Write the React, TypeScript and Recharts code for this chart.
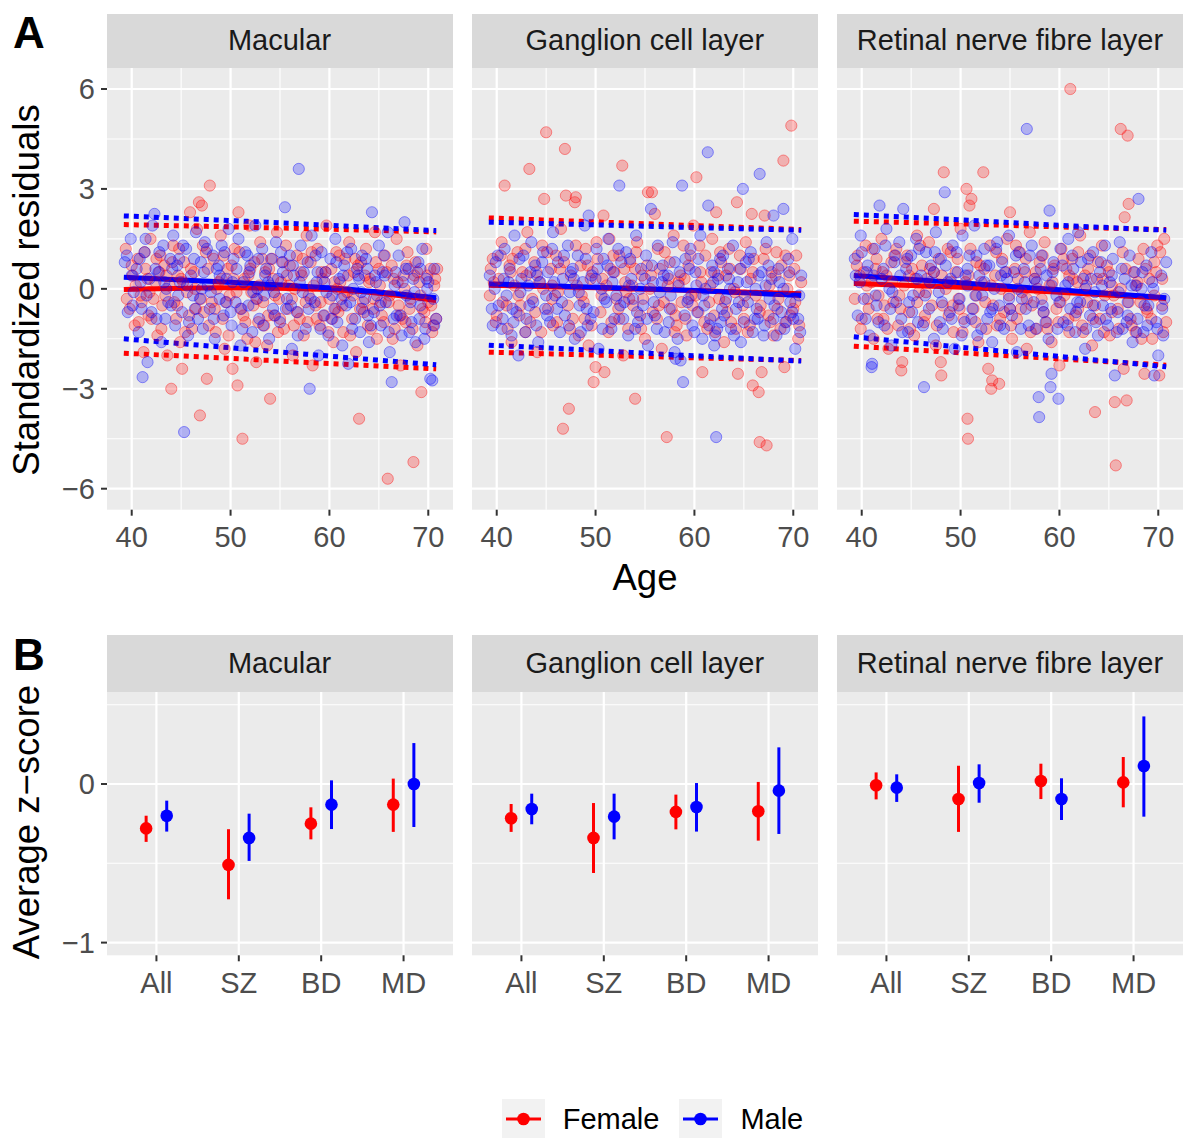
import React from "react";
import { ComposedChart, Scatter, Line, XAxis, YAxis, CartesianGrid, ErrorBar } from "recharts";

type Pt = [number, number];

// ---- Panel A: standardized residuals vs age (female / male) ----
const MAC_F: Pt[] = [
  [39.4,1.2],[39.8,-0.6],[40.1,0.4],[40.3,-1.1],[40.6,0.9],[40.9,-0.2],[41.2,-1.9],[41.4,0.6],[41.7,-0.8],[41.9,1.5],
  [42.2,-0.3],[42.4,0.2],[42.6,-1.4],[42.9,1.0],[43.1,-0.5],[43.3,0.7],[43.6,-2.0],[43.8,0.1],[44.0,-3.0],[44.2,1.3],
  [44.5,-0.9],[44.7,0.4],[44.9,-1.6],[45.1,-2.4],[45.3,0.8],[45.6,-0.1],[45.9,2.3],[46.1,-1.2],[46.3,0.5],[46.6,1.8],
  [46.8,2.6],[46.9,-3.8],[47.1,2.5],[47.3,-0.7],[47.5,1.1],[47.6,-2.7],[47.9,3.1],[48.1,-0.4],[48.3,0.9],[48.5,-1.3],
  [48.8,0.2],[49.0,1.6],[49.2,-0.9],[49.4,-1.8],[49.7,0.6],[49.9,-0.2],[50.2,-2.4],[50.4,1.2],[50.7,-2.9],[50.8,2.3],
  [51.0,-0.6],[51.2,-4.5],[51.4,0.3],[51.7,-1.5],[51.9,1.9],[52.1,-0.1],[52.4,0.8],[52.6,-2.2],[52.8,-1.0],[53.0,1.4],
  [53.3,-0.4],[53.5,0.5],[53.7,-1.7],[54.0,-3.3],[54.2,0.9],[54.4,-0.8],[54.7,1.7],[54.9,-0.3],[55.1,0.2],[55.4,-1.2],
  [55.6,1.3],[55.8,-0.6],[56.0,0.7],[56.3,-2.0],[56.5,0.0],[56.7,1.0],[57.0,-0.9],[57.2,0.4],[57.4,-1.4],[57.7,1.6],
  [57.9,-0.2],[58.1,0.8],[58.3,-2.3],[58.6,-0.5],[58.8,1.2],[59.0,-1.1],[59.3,0.3],[59.5,-0.8],[59.7,1.9],[60.0,-0.3],
  [60.2,0.6],[60.4,-1.6],[60.7,1.1],[60.9,-0.7],[61.1,0.2],[61.4,-1.3],[61.6,0.9],[61.8,-0.1],[62.0,1.4],[62.3,-0.9],
  [62.5,0.5],[62.7,-1.9],[63.0,-3.9],[63.2,0.8],[63.4,-0.4],[63.7,1.2],[63.9,-1.1],[64.1,0.3],[64.4,-0.6],[64.6,1.7],
  [64.8,-1.5],[65.1,0.1],[65.3,-0.8],[65.6,1.0],[65.9,-5.7],[66.1,-0.2],[66.3,0.7],[66.6,-1.2],[66.8,1.5],[67.0,-0.5],
  [67.2,-2.3],[67.5,0.4],[67.7,-1.0],[67.9,1.1],[68.2,-0.3],[68.5,-5.2],[68.7,0.8],[68.9,-1.7],[69.1,0.2],[69.3,-3.1],
  [69.6,-0.7],[69.8,1.2],[70.0,-0.4],[70.2,0.6],[70.4,-1.3],[70.6,0.1],[70.8,-0.9],
  [40.4,0.1],[41.0,-0.4],[41.6,0.3],[42.0,-0.9],[42.8,0.5],[43.4,-0.2],[44.1,0.8],[44.6,-0.5],[45.2,0.2],[45.8,-0.8],
  [46.4,0.0],[47.0,-0.3],[47.7,0.6],[48.4,-0.6],[49.1,0.3],[49.6,-0.4],[50.1,0.7],[50.6,-0.1],[51.3,-0.8],[51.8,0.4],
  [52.3,-0.5],[52.9,0.1],[53.4,-1.1],[53.9,0.6],[54.5,-0.2],[55.0,-0.9],[55.7,0.4],[56.2,-0.3],[56.8,-0.7],[57.3,0.9],
  [57.8,-1.0],[58.4,0.1],[59.1,-0.4],[59.6,0.5],[60.3,-0.9],[60.8,0.0],[61.3,-0.5],[61.9,0.4],[62.4,-0.2],[62.9,0.7],
  [63.5,-0.7],[64.0,0.2],[64.5,-0.3],[65.0,0.6],[65.5,-1.0],[66.0,-0.4],[66.5,0.3],[67.1,-0.8],[67.6,0.0],[68.1,-0.6],
  [68.6,0.4],[69.2,-0.2],[69.7,-1.0],[70.3,-0.5],[70.7,0.3],
  [39.5,-0.3],[40.0,0.7],[40.7,-1.0],[41.3,1.1],[41.8,-0.1],[42.5,0.9],[43.0,-1.2],[43.5,0.4],[44.3,-0.4],[44.8,1.2],
  [45.4,-1.3],[46.0,0.6],[46.5,-0.6],[47.2,1.3],[47.8,-1.1],[48.6,0.0],[49.3,1.0],[49.8,-1.4],[50.3,0.3],[50.9,1.1],
  [51.5,-1.0],[52.0,0.6],[52.7,-0.3],[53.2,0.9],[53.8,-0.8],[54.3,0.3],[54.8,-1.3],[55.3,0.8],[55.9,0.1],[56.4,-1.1],
  [57.1,0.5],[57.6,-0.4],[58.2,1.1],[58.7,-0.9],[59.2,0.5],[59.9,-1.3],[60.5,0.2],[61.0,1.0],[61.5,-0.2],[62.1,-1.4],
  [62.6,0.9],[63.1,-0.6],[63.6,0.4],[64.2,-1.2],[64.7,0.8],[65.2,-0.4],[65.8,0.5],[66.4,-1.5],[66.9,0.2],[67.4,-0.9],
  [67.8,0.7],[68.4,-1.2],[68.9,0.5],[69.4,-0.6],[69.9,0.4],[70.5,-1.1],[70.9,0.6],[45.0,0.3],[52.5,-1.6],[60.6,-0.6],
];

const MAC_M: Pt[] = [
  [39.3,0.8],[39.6,-0.7],[39.9,1.5],[40.2,-0.1],[40.5,0.6],[40.7,-1.3],[41.0,-0.6],[41.1,-2.65],[41.3,1.1],[41.6,-2.2],
  [41.8,0.3],[42.1,1.9],[42.3,2.25],[42.5,-0.9],[42.7,0.5],[43.0,-1.6],[43.2,1.3],[43.5,0.0],[43.7,-0.4],[43.9,0.9],
  [44.2,1.6],[44.4,-1.1],[44.6,0.7],[44.9,0.2],[45.1,-0.7],[45.3,-4.3],[45.5,1.2],[45.7,-1.4],[46.0,0.4],[46.2,-0.2],
  [46.5,1.7],[46.7,-0.9],[47.0,0.8],[47.2,-1.2],[47.4,1.4],[47.7,0.1],[47.9,-0.6],[48.2,1.0],[48.4,-1.5],[48.6,0.6],
  [48.9,-0.3],[49.1,1.3],[49.3,-0.8],[49.6,0.3],[49.8,1.8],[50.1,-1.1],[50.3,0.9],[50.5,-0.4],[50.8,1.5],[51.0,-1.7],
  [51.3,0.2],[51.5,1.1],[51.8,-0.5],[52.0,0.7],[52.2,-1.3],[52.5,1.9],[52.7,0.0],[52.9,-0.9],[53.2,1.2],[53.4,-0.2],
  [53.6,0.6],[53.9,-1.5],[54.1,0.9],[54.3,-0.6],[54.6,1.4],[54.8,0.3],[55.0,-1.0],[55.3,0.5],[55.5,2.45],[55.7,-0.3],
  [56.0,1.0],[56.2,-1.8],[56.4,0.4],[56.7,-0.7],[56.9,3.6],[57.1,1.3],[57.3,-0.1],[57.6,-1.2],[57.8,0.8],[58.0,-3.0],
  [58.2,1.6],[58.5,-0.4],[58.7,0.2],[58.9,-2.0],[59.2,1.1],[59.4,-0.8],[59.6,0.5],[59.9,-1.4],[60.1,0.9],[60.3,-0.2],
  [60.6,1.5],[60.8,-1.0],[61.0,0.3],[61.3,-1.7],[61.5,0.7],[61.7,-0.5],[61.9,-2.25],[62.2,1.2],[62.4,0.0],[62.6,-0.9],
  [62.9,0.4],[63.1,-1.3],[63.3,1.0],[63.6,-0.3],[63.8,0.6],[64.0,-1.6],[64.3,2.3],[64.5,-0.7],[64.7,0.2],[65.0,1.3],
  [65.2,-1.1],[65.4,0.5],[65.7,-0.4],[65.9,1.7],[66.1,-1.9],[66.3,-2.8],[66.6,0.1],[66.8,-0.8],[67.0,1.0],[67.3,-1.4],
  [67.6,2.0],[67.8,-0.2],[68.0,0.6],[68.3,-1.0],[68.5,0.3],[68.7,-1.6],[69.0,0.8],[69.2,-0.5],[69.4,1.2],[69.7,-1.2],
  [69.9,0.0],[70.2,-2.7],[70.4,-2.75],[70.6,0.6],[70.8,-0.9],
  [40.0,0.4],[40.8,0.9],[41.5,-0.2],[42.4,0.6],[43.3,0.2],[44.0,-0.5],[44.8,0.9],[45.6,0.1],[46.4,-0.6],[47.3,0.5],
  [48.0,-0.1],[48.8,0.7],[49.5,-0.4],[50.2,0.2],[51.1,-0.6],[51.9,0.5],[52.6,-0.3],[53.5,0.4],[54.4,-0.1],[55.2,0.8],
  [56.1,-0.5],[57.0,0.2],[57.9,-0.6],[58.8,0.5],[59.7,-0.1],[60.5,-0.6],[61.4,0.4],[62.1,-0.4],[63.0,0.3],[63.9,-0.8],
  [64.8,-0.2],[65.6,0.4],[66.5,-0.9],[67.4,0.2],[68.2,-0.4],[69.1,-0.9],[69.8,0.3],[70.5,-0.3],
  [39.5,1.0],[40.1,-0.5],[40.9,0.2],[41.4,1.5],[42.0,-0.7],[42.8,1.1],[43.4,-0.9],[44.1,0.6],[44.7,-0.2],[45.2,1.3],
  [45.8,-1.0],[46.3,0.9],[46.9,-0.3],[47.6,1.2],[48.3,-0.9],[48.9,0.4],[49.4,1.1],[50.0,-0.7],[50.6,0.6],[51.2,-1.2],
  [51.7,1.0],[52.3,-0.1],[52.8,0.9],[53.3,-1.1],[53.8,0.2],[54.5,-0.8],[55.1,1.1],[55.6,-0.6],[56.3,0.7],[56.8,-1.4],
  [57.4,0.5],[58.1,-0.3],[58.6,1.0],[59.1,-1.2],[59.5,0.2],[60.2,-0.9],[60.7,0.8],[61.2,-0.3],[61.8,1.1],[62.3,-1.2],
  [62.8,0.6],[63.3,-0.6],[63.7,0.9],[64.2,-1.1],[64.6,0.4],[65.1,-0.5],[65.5,1.0],[66.0,-1.3],[66.7,0.5],[67.2,-0.8],
  [67.7,0.6],[68.1,-1.3],[68.6,-0.1],[69.2,0.6],[69.6,-1.5],[70.0,0.2],[70.6,-1.1],[47.1,0.0],[54.0,0.1],[63.2,-0.1],
];

const GCL_F: Pt[] = [
  [39.3,-0.2],[39.6,0.9],[39.9,-1.0],[40.2,0.3],[40.5,1.4],[40.8,3.1],[41.0,-0.5],[41.3,0.7],[41.5,-1.6],[41.8,0.1],
  [42.1,1.1],[42.3,-0.8],[42.6,0.5],[42.9,-1.3],[43.1,1.7],[43.3,3.6],[43.6,-0.3],[43.8,0.8],[44.1,-1.9],[44.3,0.2],
  [44.6,1.3],[44.8,2.7],[45.0,4.7],[45.2,-0.6],[45.5,0.6],[45.7,-1.1],[46.0,1.0],[46.2,-0.1],[46.5,1.8],[46.7,-4.2],
  [46.9,4.2],[47.0,2.8],[47.3,-3.6],[47.5,0.4],[47.7,-0.9],[47.9,2.6],[48.0,2.75],[48.3,-1.4],[48.5,0.7],[48.8,-0.4],
  [49.0,1.2],[49.3,-1.7],[49.5,0.3],[49.8,-2.8],[50.0,-2.35],[50.2,0.9],[50.5,-0.7],[50.8,2.2],[50.9,-2.5],[51.1,0.1],
  [51.4,1.5],[51.6,-1.0],[51.9,0.5],[52.1,-0.3],[52.4,1.0],[52.7,3.7],[52.8,-2.0],[53.0,0.2],[53.3,-1.2],[53.5,0.8],
  [53.8,-0.5],[54.0,-3.3],[54.2,1.4],[54.5,-0.8],[54.7,0.4],[55.0,-1.5],[55.3,2.9],[55.5,0.0],[55.7,2.9],[56.0,2.25],
  [56.2,-0.9],[56.5,0.6],[56.7,-1.8],[57.0,1.1],[57.2,-4.45],[57.4,0.3],[57.7,-0.6],[57.9,1.6],[58.2,-1.1],[58.4,0.2],
  [58.7,-0.4],[58.9,1.3],[59.2,-1.4],[59.4,0.7],[59.7,-0.2],[59.9,1.9],[60.2,3.35],[60.4,-0.7],[60.6,0.5],[60.8,-2.5],
  [61.1,1.0],[61.3,-1.2],[61.6,0.1],[61.8,1.5],[62.0,-0.8],[62.2,2.3],[62.5,-0.3],[62.7,0.8],[63.0,-1.6],[63.2,0.4],
  [63.5,1.2],[63.7,-1.0],[64.0,0.0],[64.3,2.6],[64.4,-2.55],[64.7,0.6],[64.9,-0.5],[65.2,1.4],[65.4,-1.3],[65.7,0.3],
  [65.8,2.25],[65.9,-2.9],[66.2,-0.2],[66.5,-3.1],[66.6,-4.6],[66.8,-2.5],[67.0,0.9],[67.1,2.2],[67.3,-4.7],[67.5,-0.8],
  [67.8,0.5],[68.0,-1.4],[68.3,1.1],[68.5,-0.3],[68.8,0.7],[69.0,3.85],[69.1,-2.35],[69.3,-1.0],[69.6,0.4],[69.8,4.9],
  [70.0,-0.6],[70.3,1.0],[70.5,-1.5],[70.8,0.2],
  [39.7,0.2],[40.6,-0.4],[41.4,0.5],[42.2,-0.2],[43.0,0.4],[43.9,-0.7],[44.7,0.0],[45.6,-0.3],[46.4,0.6],[47.2,-0.5],
  [48.1,0.1],[48.9,-0.9],[49.7,0.5],[50.6,-0.2],[51.5,0.6],[52.3,-0.6],[53.1,-0.1],[54.0,0.6],[54.8,-0.3],[55.6,0.4],
  [56.4,-0.5],[57.3,0.1],[58.1,-0.8],[59.0,0.3],[59.8,-0.5],[60.7,0.2],[61.5,-0.4],[62.4,0.4],[63.3,-0.7],[64.1,-0.1],
  [65.0,-0.9],[65.9,0.5],[66.7,-0.5],[67.6,0.1],[68.4,-0.6],[69.4,0.0],[70.2,-0.4],
  [39.4,0.6],[40.0,-0.8],[40.4,1.0],[41.1,-1.2],[41.6,0.9],[42.4,-0.5],[42.9,1.2],[43.4,-1.0],[44.0,0.5],[44.5,-1.3],
  [45.1,1.1],[45.6,0.1],[46.1,-1.0],[46.8,0.8],[47.4,-1.2],[48.0,1.3],[48.6,-0.2],[49.2,0.7],[49.6,-1.1],[50.1,1.4],
  [50.7,0.3],[51.3,-1.3],[51.8,1.0],[52.4,-0.9],[52.9,0.6],[53.4,-0.3],[54.1,1.1],[54.6,-1.2],[55.2,0.7],[55.8,-0.7],
  [56.3,1.2],[56.9,-0.4],[57.5,0.8],[58.0,-1.3],[58.6,0.4],[59.1,-0.9],[59.6,1.0],[60.1,-0.2],[60.5,1.3],[61.0,-1.0],
  [61.7,0.5],[62.1,-1.3],[62.6,1.1],[63.1,-0.4],[63.6,0.6],[64.2,-1.2],[64.6,1.0],[65.1,-0.2],[65.6,-1.1],[66.0,0.9],
  [66.6,-0.7],[67.2,1.2],[67.7,-1.0],[68.2,0.4],[68.7,-1.2],[69.2,1.0],[69.7,-0.8],[70.1,0.6],[70.6,-1.1],[53.7,0.1],
];

const GCL_M: Pt[] = [
  [39.3,0.4],[39.6,-1.1],[39.9,0.8],[40.2,-0.5],[40.5,-1.2],[40.8,1.2],[41.0,-0.2],[41.3,0.6],[41.5,-1.4],[41.8,1.6],
  [42.0,-0.7],[42.2,-2.0],[42.5,0.3],[42.7,1.0],[43.0,-0.9],[43.2,0.1],[43.5,1.4],[43.7,-0.4],[43.9,0.7],[44.2,-1.6],
  [44.4,0.2],[44.7,1.1],[44.9,-0.6],[45.2,0.5],[45.4,-1.0],[45.7,1.7],[45.9,-0.2],[46.2,0.8],[46.4,-1.3],[46.7,0.3],
  [46.9,-0.8],[47.2,1.3],[47.4,-0.1],[47.7,0.6],[47.9,-1.5],[48.2,1.0],[48.4,-0.5],[48.7,0.2],[48.9,1.9],[49.2,-1.1],
  [49.3,2.2],[49.6,0.4],[49.8,-0.7],[50.1,1.2],[50.3,-1.8],[50.6,0.0],[50.8,0.9],[51.1,-0.4],[51.3,1.5],[51.6,-1.2],
  [51.8,0.5],[52.1,-0.2],[52.4,3.1],[52.6,0.8],[52.8,-0.9],[53.1,1.1],[53.3,-1.4],[53.6,0.3],[53.8,-0.3],[54.1,1.6],
  [54.3,-1.0],[54.6,0.6],[54.8,-0.5],[55.1,1.0],[55.3,-1.7],[55.6,2.4],[55.8,0.2],[56.0,-0.8],[56.3,1.3],[56.5,-0.1],
  [56.8,0.7],[57.0,-1.3],[57.3,0.4],[57.5,-0.6],[57.8,1.4],[58.0,-1.9],[58.1,-2.1],[58.4,0.1],[58.6,-2.15],[58.75,3.1],
  [58.85,-2.8],[59.1,0.9],[59.3,-0.4],[59.6,1.2],[59.8,-1.1],[60.1,0.5],[60.3,-0.7],[60.6,1.6],[60.8,-1.5],[61.1,0.0],
  [61.35,4.1],[61.4,2.5],[61.6,-0.9],[61.8,0.7],[62.0,-1.7],[62.1,-1.4],[62.2,-4.45],[62.4,0.3],[62.7,-1.0],[62.9,1.0],
  [63.2,-0.3],[63.4,0.6],[63.7,-1.2],[63.9,1.3],[64.2,-0.6],[64.4,0.2],[64.7,-1.6],[64.9,3.0],[65.2,0.8],[65.4,-0.4],
  [65.7,1.1],[65.9,-1.3],[66.2,0.0],[66.4,-0.9],[66.6,3.45],[66.8,0.5],[67.1,-1.1],[67.3,1.4],[67.6,-0.3],[67.8,0.3],
  [68.0,2.2],[68.3,-1.4],[68.5,0.6],[68.8,-0.7],[69.0,2.4],[69.2,-1.0],[69.5,0.9],[69.7,-0.4],[69.9,1.5],[70.2,-1.8],
  [70.5,-0.9],[70.8,0.4],
  [39.8,0.0],[40.7,0.3],[41.6,-0.6],[42.4,-0.1],[43.3,-0.5],[44.1,0.4],[45.0,-0.2],[45.8,0.2],[46.6,-0.4],[47.5,0.5],
  [48.3,-0.1],[49.1,-0.6],[50.0,0.3],[50.9,-0.3],[51.7,0.2],[52.5,-0.5],[53.4,0.1],[54.2,-0.7],[55.0,0.3],[55.9,-0.4],
  [56.7,0.2],[57.6,-0.2],[58.5,0.5],[59.4,-0.3],[60.2,0.1],[61.0,-0.5],[61.9,0.2],[62.8,-0.6],[63.6,0.0],[64.5,-0.4],
  [65.3,0.2],[66.3,-0.6],[67.2,0.1],[68.1,-0.5],[69.0,0.0],[69.9,-0.7],[70.6,-0.2],
  [39.5,-0.6],[40.1,1.0],[40.6,-0.9],[41.2,0.2],[41.7,-1.0],[42.3,0.9],[42.9,-1.3],[43.4,0.5],[44.0,-1.1],[44.6,0.8],
  [45.1,-0.8],[45.6,1.2],[46.1,-0.6],[46.8,1.0],[47.3,-1.1],[47.8,0.3],[48.5,-1.3],[49.0,0.9],[49.5,-0.9],[50.2,0.6],
  [50.7,-1.2],[51.2,0.7],[51.9,-0.9],[52.3,1.2],[52.9,-0.4],[53.5,0.9],[54.0,-1.2],[54.5,0.0],[55.2,-0.9],[55.7,0.7],
  [56.2,-1.2],[56.9,0.4],[57.4,-1.0],[58.0,0.8],[58.3,-1.5],[59.0,-0.8],[59.5,0.6],[60.0,-1.3],[60.4,0.9],[60.9,-0.2],
  [61.5,-1.1],[62.0,0.5],[62.3,-1.2],[62.6,0.9],[63.0,-0.8],[63.5,0.3],[64.0,-1.4],[64.6,0.6],[65.0,-1.0],[65.5,0.9],
  [66.1,-0.9],[66.5,0.4],[67.0,-1.4],[67.5,0.7],[68.0,-0.9],[68.6,0.2],[69.1,-1.2],[69.6,0.5],[70.0,-0.9],[70.7,-1.3],
];

const RNFL_F: Pt[] = [
  [39.3,-0.3],[39.6,1.0],[39.9,-1.2],[40.2,0.5],[40.4,1.3],[40.7,-0.6],[41.0,0.2],[41.2,-1.5],[41.5,0.9],[41.7,-0.2],
  [42.0,1.5],[42.2,-0.9],[42.5,0.4],[42.7,-1.8],[43.0,0.8],[43.2,-0.4],[43.5,1.2],[43.7,-1.1],[44.0,-2.45],[44.1,-2.2],
  [44.3,0.1],[44.6,1.0],[44.8,-0.7],[45.1,0.6],[45.3,-1.4],[45.6,1.6],[45.8,-0.1],[46.1,0.7],[46.3,-1.0],[46.6,0.3],
  [46.8,1.4],[47.1,-0.5],[47.3,2.4],[47.5,-1.7],[47.8,0.9],[48.0,-2.2],[48.05,-2.6],[48.3,3.5],[48.5,0.0],[48.8,-0.8],
  [49.0,1.1],[49.3,-1.3],[49.5,0.5],[49.8,-0.3],[50.0,1.8],[50.3,-0.9],[50.6,3.0],[50.7,-3.9],[50.75,-4.5],[50.9,2.5],
  [51.1,2.7],[51.3,-0.6],[51.6,0.8],[51.8,-1.6],[52.1,0.2],[52.3,3.5],[52.5,-0.4],[52.8,-2.4],[53.0,1.3],[53.1,-3.0],
  [53.2,-2.75],[53.5,0.4],[53.7,-1.1],[53.9,-2.85],[54.2,0.9],[54.4,-0.7],[54.7,1.5],[54.9,-0.2],[55.0,2.3],[55.2,-1.5],
  [55.5,0.6],[55.7,-0.9],[56.0,1.1],[56.2,-0.1],[56.5,0.5],[56.7,-1.8],[57.0,1.7],[57.2,-0.5],[57.5,0.3],[57.7,-1.2],
  [58.0,0.8],[58.2,-0.3],[58.5,1.4],[58.7,-1.0],[59.0,0.1],[59.2,-1.6],[59.5,0.7],[59.7,-0.6],[60.0,-2.3],[60.2,1.2],
  [60.5,-0.2],[60.7,0.6],[61.0,-1.3],[61.1,6.0],[61.3,0.9],[61.6,-0.8],[61.8,0.2],[62.1,1.6],[62.3,-1.1],[62.6,0.4],
  [62.8,-0.4],[63.1,1.0],[63.3,-1.7],[63.6,-3.7],[63.8,0.3],[64.1,-0.9],[64.3,1.3],[64.6,-0.2],[64.8,0.7],[65.1,-1.4],
  [65.3,0.1],[65.6,-3.4],[65.7,-5.3],[65.9,-0.6],[66.2,4.8],[66.4,1.1],[66.5,-2.4],[66.6,2.15],[66.8,-3.35],[66.9,4.6],
  [67.0,2.55],[67.2,-0.9],[67.5,0.5],[67.7,-1.3],[68.0,0.9],[68.2,-0.4],[68.5,1.2],[68.6,-2.55],[68.9,-0.7],[69.1,0.3],
  [69.4,-1.5],[69.6,0.8],[69.9,1.3],[70.1,-2.6],[70.2,1.1],[70.4,-0.5],[70.6,1.5],[70.8,-1.0],
  [39.8,0.4],[40.6,-0.3],[41.4,0.6],[42.3,-0.5],[43.1,0.2],[43.9,-0.6],[44.8,0.4],[45.6,-0.4],[46.5,-0.1],[47.3,0.5],
  [48.2,-0.5],[49.0,0.2],[49.9,-0.6],[50.8,0.4],[51.6,-0.2],[52.4,0.6],[53.3,-0.5],[54.1,0.0],[55.0,-0.6],[55.8,0.3],
  [56.7,-0.3],[57.6,0.5],[58.4,-0.7],[59.3,0.2],[60.1,-0.4],[61.0,0.4],[61.9,-0.6],[62.7,0.1],[63.6,-0.5],[64.4,0.3],
  [65.3,-0.7],[66.2,0.0],[67.0,-0.4],[67.9,0.2],[68.8,-0.6],[69.6,-0.2],[70.4,0.3],
  [39.5,0.7],[40.0,-0.9],[40.5,0.1],[41.1,1.2],[41.6,-0.9],[42.1,0.5],[42.6,-1.2],[43.3,1.0],[43.8,-0.2],[44.4,0.8],
  [44.9,-1.2],[45.4,0.3],[45.9,1.3],[46.4,-0.8],[46.9,0.6],[47.6,-1.1],[48.1,0.4],[48.7,1.2],[49.2,-0.5],[49.7,0.9],
  [50.2,-1.3],[50.5,0.2],[51.0,1.2],[51.5,-1.0],[52.0,0.7],[52.6,-1.2],[53.1,0.1],[53.6,1.1],[54.0,-0.9],[54.6,0.5],
  [55.1,-1.1],[55.6,1.3],[56.1,-0.6],[56.6,0.9],[57.1,-1.3],[57.8,0.0],[58.3,1.0],[58.8,-1.2],[59.4,0.6],[59.9,-1.0],
  [60.4,0.9],[60.9,-0.9],[61.4,0.3],[61.9,1.1],[62.4,-1.3],[62.9,0.6],[63.4,-0.9],[63.9,0.8],[64.5,-1.3],[65.0,0.5],
  [65.5,-0.2],[66.0,-1.2],[66.7,0.6],[67.3,-1.1],[67.8,0.1],[68.3,-1.5],[68.7,0.6],[69.3,-0.9],[69.8,0.5],[70.5,-1.3],
];

const RNFL_M: Pt[] = [
  [39.3,0.9],[39.6,-0.8],[39.9,1.6],[40.2,-0.3],[40.5,0.5],[40.8,-1.4],[41.0,-2.35],[41.05,-2.25],[41.3,1.2],[41.5,-0.5],
  [41.8,2.5],[42.0,0.3],[42.3,-1.1],[42.5,1.8],[42.8,0.0],[43.0,-1.7],[43.3,0.8],[43.5,-0.4],[43.8,1.4],[44.0,-0.9],
  [44.2,2.4],[44.5,0.6],[44.7,-1.3],[45.0,1.0],[45.2,-0.2],[45.5,1.5],[45.7,-1.0],[46.0,0.4],[46.3,-2.95],[46.5,1.1],
  [46.8,-0.6],[47.0,0.7],[47.3,-1.5],[47.5,1.7],[47.8,-0.1],[48.0,0.9],[48.2,-1.2],[48.4,2.9],[48.7,0.2],[48.9,-0.7],
  [49.2,1.3],[49.4,-1.8],[49.7,0.5],[49.9,-0.3],[50.2,1.6],[50.4,-1.0],[50.7,0.1],[50.9,1.0],[51.2,-0.6],[51.4,1.9],
  [51.7,-1.4],[51.9,0.4],[52.2,-0.2],[52.4,1.2],[52.7,-0.9],[52.9,0.7],[53.2,-1.6],[53.4,0.0],[53.7,1.4],[53.9,-0.5],
  [54.2,0.8],[54.4,-1.2],[54.7,0.3],[54.9,1.6],[55.2,-0.8],[55.4,0.5],[55.7,-1.9],[55.9,1.1],[56.2,-0.3],[56.4,0.6],
  [56.7,4.8],[56.9,-1.1],[57.2,1.3],[57.4,-0.4],[57.7,0.2],[57.9,-3.25],[57.95,-3.85],[58.2,1.0],[58.4,-0.7],[58.7,0.4],
  [58.9,-1.5],[59.0,2.35],[59.1,-2.95],[59.2,-2.55],[59.4,0.8],[59.7,-0.2],[59.9,-3.3],[60.1,1.2],[60.4,-1.0],[60.6,0.1],
  [60.9,1.5],[61.1,-0.6],[61.4,0.6],[61.6,-1.3],[61.9,1.7],[62.1,-0.4],[62.4,0.3],[62.6,-1.8],[62.9,0.9],[63.1,-0.8],
  [63.4,1.1],[63.6,-0.1],[63.9,-1.4],[64.1,0.5],[64.4,-0.5],[64.6,1.3],[64.9,-1.1],[65.1,0.2],[65.4,0.9],[65.6,-2.6],
  [65.9,-0.7],[66.1,1.4],[66.4,-1.2],[66.6,0.3],[66.9,-0.4],[67.1,1.0],[67.4,-1.6],[67.6,0.5],[67.9,-0.9],[68.0,2.7],
  [68.3,0.0],[68.5,-1.3],[68.8,0.7],[69.0,-0.5],[69.3,1.1],[69.6,-2.6],[69.8,-1.0],[70.0,-2.0],[70.3,0.4],[70.5,-1.4],
  [70.8,0.8],
  [39.8,0.2],[40.6,0.7],[41.4,-0.2],[42.2,0.6],[43.1,-0.1],[43.9,0.4],[44.8,-0.4],[45.6,0.3],[46.4,-0.2],[47.3,0.5],
  [48.1,-0.4],[49.0,0.3],[49.8,-0.5],[50.7,0.6],[51.5,-0.2],[52.4,0.2],[53.2,-0.6],[54.1,0.4],[54.9,-0.3],[55.8,0.0],
  [56.6,-0.6],[57.5,0.3],[58.3,-0.5],[59.2,0.1],[60.0,-0.4],[60.9,0.2],[61.7,-0.7],[62.6,0.0],[63.4,-0.5],[64.3,0.1],
  [65.2,-0.6],[66.0,-0.1],[66.9,-0.8],[67.7,0.1],[68.6,-0.5],[69.5,0.0],[70.4,-0.6],
  [39.4,0.4],[40.0,1.1],[40.4,-0.9],[41.2,0.4],[41.7,-1.0],[42.4,1.3],[42.9,-0.6],[43.4,1.0],[44.1,-1.3],[44.6,0.9],
  [45.1,-0.7],[45.8,1.2],[46.2,-1.1],[46.9,0.2],[47.4,1.1],[47.9,-1.0],[48.5,0.7],[49.1,-0.9],[49.6,1.1],[50.1,-1.4],
  [50.5,0.4],[51.1,-0.9],[51.6,1.0],[52.1,-1.2],[52.6,0.7],[53.0,-0.7],[53.6,1.2],[54.0,-1.1],[54.5,0.5],[55.0,-0.6],
  [55.6,1.0],[56.1,-1.2],[56.5,0.2],[57.0,1.0],[57.6,-1.2],[58.1,0.6],[58.6,-1.0],[59.3,0.5],[59.8,-1.2],[60.3,0.7],
  [60.8,-1.1],[61.3,1.0],[61.8,-0.4],[62.2,0.8],[62.7,-1.2],[63.2,0.3],[63.7,-1.0],[64.2,0.8],[64.7,-0.9],[65.3,0.4],
  [65.8,-1.3],[66.3,0.6],[66.8,-1.0],[67.3,0.1],[67.8,-1.3],[68.4,0.5],[68.9,-1.1],[69.4,0.2],[69.9,-1.2],[70.6,-0.3],
];

// fitted trend (solid) and quantile (dotted) lines, sampled at these ages
const LINE_AGES = [39.2, 50, 60, 70.8];
const MAC_F_FIT = [-0.02, 0.03, -0.02, -0.35];
const MAC_M_FIT = [0.35, 0.2, 0.03, -0.27];
const MAC_F_HI = [1.93, 1.86, 1.79, 1.71];
const MAC_M_HI = [2.19, 2.05, 1.91, 1.75];
const MAC_F_LO = [-1.93, -2.09, -2.24, -2.4];
const MAC_M_LO = [-1.5, -1.77, -2.02, -2.28];
const GCL_F_FIT = [0.11, 0.03, -0.05, -0.15];
const GCL_M_FIT = [0.15, 0.05, -0.05, -0.2];
const GCL_F_HI = [2.13, 2.01, 1.9, 1.78];
const GCL_M_HI = [2.0, 1.92, 1.84, 1.76];
const GCL_F_LO = [-1.9, -1.99, -2.07, -2.15];
const GCL_M_LO = [-1.69, -1.85, -2.01, -2.17];
const RNFL_F_FIT = [0.16, 0.05, -0.1, -0.29];
const RNFL_M_FIT = [0.4, 0.18, -0.03, -0.27];
const RNFL_F_HI = [2.03, 1.95, 1.86, 1.78];
const RNFL_M_HI = [2.23, 2.07, 1.91, 1.76];
const RNFL_F_LO = [-1.72, -1.92, -2.1, -2.29];
const RNFL_M_LO = [-1.44, -1.75, -2.03, -2.34];

// ---- Panel B: average z-score by group ----
const GROUPS = ["All", "SZ", "BD", "MD"];
const MAC_F_MEAN = [-0.28, -0.51, -0.25, -0.13];
const MAC_F_LOW = [-0.365, -0.727, -0.349, -0.302];
const MAC_F_HIGH = [-0.2, -0.285, -0.147, 0.034];
const MAC_M_MEAN = [-0.2, -0.34, -0.13, 0.0];
const MAC_M_LOW = [-0.3, -0.485, -0.284, -0.271];
const MAC_M_HIGH = [-0.105, -0.187, 0.023, 0.258];
const GCL_F_MEAN = [-0.216, -0.34, -0.176, -0.172];
const GCL_F_LOW = [-0.302, -0.561, -0.286, -0.357];
const GCL_F_HIGH = [-0.126, -0.12, -0.067, 0.013];
const GCL_M_MEAN = [-0.158, -0.206, -0.145, -0.042];
const GCL_M_LOW = [-0.254, -0.349, -0.3, -0.315];
const GCL_M_HIGH = [-0.061, -0.061, 0.006, 0.231];
const RNFL_F_MEAN = [-0.008, -0.095, 0.019, 0.01];
const RNFL_F_LOW = [-0.097, -0.302, -0.095, -0.147];
const RNFL_F_HIGH = [0.073, 0.115, 0.128, 0.17];
const RNFL_M_MEAN = [-0.023, 0.006, -0.095, 0.113];
const RNFL_M_LOW = [-0.113, -0.118, -0.227, -0.206];
const RNFL_M_HIGH = [0.061, 0.124, 0.036, 0.426];

const TITLES = ["Macular", "Ganglion cell layer", "Retinal nerve fibre layer"];
const SERIES = [
  { label: "Female", color: "#FF0000" },
  { label: "Male", color: "#0000FF" },
];

const RED = SERIES[0].color;
const BLUE = SERIES[1].color;
const FONT = '"Liberation Sans", Arial, Helvetica, sans-serif';
const PANEL_BG = "#EBEBEB";
const STRIP_BG = "#D9D9D9";
const TICK_COLOR = "#4D4D4D";

// layout (px)
const PANEL_LEFT = [106.5, 471.8, 837];
const PANEL_W = 346;
const Y_AXIS_W = 60;
const X_AXIS_H = 50;
const A_STRIP_TOP = 13.5;
const A_TOP = 68.3;
const A_H = 441.7;
const B_STRIP_TOP = 635;
const B_TOP = 691.7;
const B_H = 263.3;

const A_X_DOMAIN = [37.5, 72.5];
const A_X_TICKS = [40, 50, 60, 70];
const A_X_MINOR = [45, 55, 65];
const A_Y_DOMAIN = [-6.63, 6.63];
const A_Y_TICKS = [-6, -3, 0, 3, 6];
const A_Y_MINOR = [-4.5, -1.5, 1.5, 4.5];
const B_X_DOMAIN = [0.4, 4.6];
const B_X_TICKS = [1, 2, 3, 4];
const B_Y_DOMAIN = [-1.08, 0.58];
const B_Y_TICKS = [-1, 0];
const B_Y_MINOR = [-0.5, 0.5];
const DODGE = 0.125;

const A_FACETS = [
  { f: MAC_F, m: MAC_M, lines: [MAC_F_FIT, MAC_M_FIT, MAC_F_HI, MAC_M_HI, MAC_F_LO, MAC_M_LO] },
  { f: GCL_F, m: GCL_M, lines: [GCL_F_FIT, GCL_M_FIT, GCL_F_HI, GCL_M_HI, GCL_F_LO, GCL_M_LO] },
  { f: RNFL_F, m: RNFL_M, lines: [RNFL_F_FIT, RNFL_M_FIT, RNFL_F_HI, RNFL_M_HI, RNFL_F_LO, RNFL_M_LO] },
];

const B_FACETS = [
  { f: [MAC_F_MEAN, MAC_F_LOW, MAC_F_HIGH], m: [MAC_M_MEAN, MAC_M_LOW, MAC_M_HIGH] },
  { f: [GCL_F_MEAN, GCL_F_LOW, GCL_F_HIGH], m: [GCL_M_MEAN, GCL_M_LOW, GCL_M_HIGH] },
  { f: [RNFL_F_MEAN, RNFL_F_LOW, RNFL_F_HIGH], m: [RNFL_M_MEAN, RNFL_M_LOW, RNFL_M_HIGH] },
];

const LINE_STYLES = [
  { color: RED, dash: undefined, width: 5 },
  { color: BLUE, dash: undefined, width: 5 },
  { color: RED, dash: "5 5", width: 5 },
  { color: BLUE, dash: "5 5", width: 5 },
  { color: RED, dash: "5 5", width: 5 },
  { color: BLUE, dash: "5 5", width: 5 },
];

const toXY = (pts: Pt[]) => pts.map(([x, y]) => ({ x, y }));
const lineXY = (ys: number[]) => LINE_AGES.map((x, i) => ({ x, y: ys[i] }));
const groupXY = ([mean, lo, hi]: number[][], offset: number) =>
  mean.map((y, i) => ({ x: i + 1 + offset, y, err: [y - lo[i], hi[i] - y] }));

const minus = (v: number) => String(v).replace("-", "\u2212");

const tickStyle = { fill: TICK_COLOR, fontSize: 29, fontFamily: FONT };
const tickLine = { stroke: "#333333", strokeWidth: 2 };

const residualDot = (color: string) => (p: any) => (
  <circle cx={p.cx} cy={p.cy} r={5.6} fill={color} fillOpacity={0.25} stroke={color} strokeOpacity={0.4} strokeWidth={1} />
);
const meanDot = (color: string) => (p: any) => <circle cx={p.cx} cy={p.cy} r={6.3} fill={color} />;

function Strip({ left, top, bottom, title }: { left: number; top: number; bottom: number; title: string }) {
  return (
    <div
      style={{
        position: "absolute", left, top, width: PANEL_W, height: bottom - top,
        background: STRIP_BG, color: "#1A1A1A", fontSize: 29, display: "flex",
        alignItems: "center", justifyContent: "center", whiteSpace: "nowrap",
      }}
    >
      {title}
    </div>
  );
}

function ResidualPanel({ index }: { index: number }) {
  const facet = A_FACETS[index];
  const showY = index === 0;
  const extra = showY ? Y_AXIS_W : 0;
  return (
    <div style={{ position: "absolute", left: PANEL_LEFT[index] - extra, top: A_TOP }}>
      <ComposedChart width={PANEL_W + extra} height={A_H + X_AXIS_H} margin={{ top: 0, right: 0, bottom: 0, left: 0 }}>
        <CartesianGrid fill={PANEL_BG} stroke="#FFFFFF" strokeWidth={1.1} horizontalValues={A_Y_MINOR} verticalValues={A_X_MINOR} />
        <CartesianGrid fill="none" stroke="#FFFFFF" strokeWidth={2.2} horizontalValues={A_Y_TICKS} verticalValues={A_X_TICKS} />
        <XAxis type="number" dataKey="x" domain={A_X_DOMAIN} ticks={A_X_TICKS} interval={0} allowDataOverflow
          height={X_AXIS_H} axisLine={false} tickLine={tickLine} tickSize={6} tickMargin={11} tick={tickStyle} />
        <YAxis type="number" dataKey="y" domain={A_Y_DOMAIN} ticks={A_Y_TICKS} interval={0} allowDataOverflow
          hide={!showY} width={Y_AXIS_W} axisLine={false} tickLine={tickLine} tickSize={6} tickMargin={6}
          tick={tickStyle} tickFormatter={minus} />
        <Scatter data={toXY(facet.f)} shape={residualDot(RED)} isAnimationActive={false} />
        <Scatter data={toXY(facet.m)} shape={residualDot(BLUE)} isAnimationActive={false} />
        {facet.lines.map((ys, i) => (
          <Line key={i} data={lineXY(ys)} dataKey="y" type="monotone" dot={false} activeDot={false}
            stroke={LINE_STYLES[i].color} strokeWidth={LINE_STYLES[i].width} strokeDasharray={LINE_STYLES[i].dash}
            isAnimationActive={false} />
        ))}
      </ComposedChart>
    </div>
  );
}

function MeanPanel({ index }: { index: number }) {
  const facet = B_FACETS[index];
  const showY = index === 0;
  const extra = showY ? Y_AXIS_W : 0;
  return (
    <div style={{ position: "absolute", left: PANEL_LEFT[index] - extra, top: B_TOP }}>
      <ComposedChart width={PANEL_W + extra} height={B_H + X_AXIS_H} margin={{ top: 0, right: 0, bottom: 0, left: 0 }}>
        <CartesianGrid fill={PANEL_BG} stroke="#FFFFFF" strokeWidth={1.1} horizontalValues={B_Y_MINOR} vertical={false} />
        <CartesianGrid fill="none" stroke="#FFFFFF" strokeWidth={2.2} horizontalValues={B_Y_TICKS} verticalValues={B_X_TICKS} />
        <XAxis type="number" dataKey="x" domain={B_X_DOMAIN} ticks={B_X_TICKS} interval={0} allowDataOverflow
          height={X_AXIS_H} axisLine={false} tickLine={tickLine} tickSize={6} tickMargin={11} tick={tickStyle}
          tickFormatter={(v: number) => GROUPS[v - 1] ?? ""} />
        <YAxis type="number" dataKey="y" domain={B_Y_DOMAIN} ticks={B_Y_TICKS} interval={0} allowDataOverflow
          hide={!showY} width={Y_AXIS_W} axisLine={false} tickLine={tickLine} tickSize={6} tickMargin={6}
          tick={tickStyle} tickFormatter={minus} />
        <Scatter data={groupXY(facet.f, -DODGE)} shape={meanDot(RED)} isAnimationActive={false}>
          <ErrorBar dataKey="err" direction="y" width={0} stroke={RED} strokeWidth={3} />
        </Scatter>
        <Scatter data={groupXY(facet.m, DODGE)} shape={meanDot(BLUE)} isAnimationActive={false}>
          <ErrorBar dataKey="err" direction="y" width={0} stroke={BLUE} strokeWidth={3} />
        </Scatter>
      </ComposedChart>
    </div>
  );
}

const centered = (left: number, top: number, rotate = false): React.CSSProperties => ({
  position: "absolute", left, top, whiteSpace: "nowrap", lineHeight: 1,
  transform: `translate(-50%, -50%)${rotate ? " rotate(-90deg)" : ""}`,
});

export default function App() {
  return (
    <div style={{ position: "absolute", left: 0, top: 0, width: 1183, height: 1138, background: "#FFFFFF", fontFamily: FONT, color: "#000" }}>
      <div style={{ ...centered(29, 33), fontSize: 44, fontWeight: 700 }}>A</div>
      <div style={{ ...centered(29, 655), fontSize: 44, fontWeight: 700 }}>B</div>
      <div style={{ ...centered(27, 290, true), fontSize: 36.5 }}>Standardized residuals</div>
      <div style={{ ...centered(27, 822, true), fontSize: 36.5 }}>Average z{"\u2212"}score</div>
      <div style={{ ...centered(645, 578), fontSize: 36.5 }}>Age</div>

      {TITLES.map((t, i) => (
        <Strip key={"a" + i} left={PANEL_LEFT[i]} top={A_STRIP_TOP} bottom={A_TOP} title={t} />
      ))}
      {TITLES.map((t, i) => (
        <Strip key={"b" + i} left={PANEL_LEFT[i]} top={B_STRIP_TOP} bottom={B_TOP} title={t} />
      ))}
      {TITLES.map((_, i) => (
        <ResidualPanel key={"ra" + i} index={i} />
      ))}
      {TITLES.map((_, i) => (
        <MeanPanel key={"mb" + i} index={i} />
      ))}

      <div style={{ position: "absolute", left: 501.7, top: 1099, display: "flex", alignItems: "center" }}>
        {SERIES.map((s) => (
          <div key={s.label} style={{ display: "flex", alignItems: "center", marginRight: 20 }}>
            <svg width={43} height={40} style={{ display: "block" }}>
              <rect x={0} y={0} width={43} height={40} fill="#F2F2F2" />
              <line x1={4} x2={39} y1={20} y2={20} stroke={s.color} strokeWidth={3} />
              <circle cx={21.5} cy={20} r={6.3} fill={s.color} />
            </svg>
            <span style={{ fontSize: 29, marginLeft: 18 }}>{s.label}</span>
          </div>
        ))}
      </div>
    </div>
  );
}
